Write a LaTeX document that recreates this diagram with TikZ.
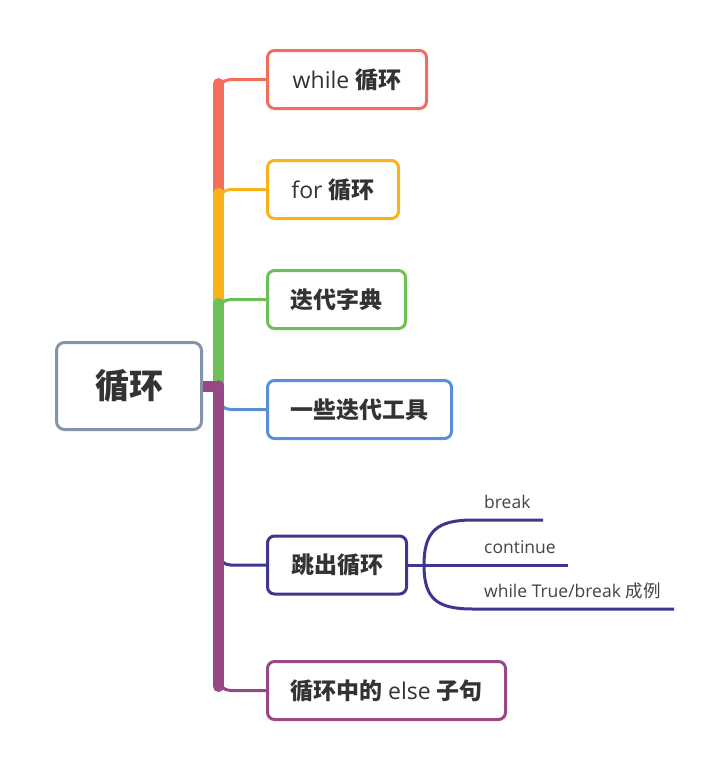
\documentclass[tikz,border=0pt]{standalone}
\usepackage{fontspec}
\setmainfont{Open Sans}
\newfontfamily\cjk{Noto Sans CJK SC}
\newcommand{\zh}[1]{{\cjk\bfseries #1}}
\newcommand{\zhr}[1]{{\cjk #1}}
\usetikzlibrary{calc}

\definecolor{whilered}{HTML}{F46E5C}
\definecolor{foryellow}{HTML}{FAB21B}
\definecolor{dictgreen}{HTML}{6CC056}
\definecolor{toolblue}{HTML}{5A8FD6}
\definecolor{jumpindigo}{HTML}{3E3790}
\definecolor{elseplum}{HTML}{984886}
\definecolor{rootgray}{HTML}{8593A8}
\definecolor{ink}{HTML}{333333}
\definecolor{subink}{HTML}{444444}

\begin{document}
\begin{tikzpicture}[
  x=1pt, y=-1pt,
  topic/.style={draw=#1, line width=3pt, rounded corners=7pt, fill=white,
    minimum height=58pt, inner xsep=0pt, anchor=west, text=ink,
    font=\fontsize{23}{27}\selectfont},
  limb/.style={#1, line width=11pt, line cap=round},
  twig/.style={#1, line width=3pt, rounded corners=12pt},
  leaf/.style={anchor=base west, inner sep=0pt, text=subink,
    font=\fontsize{17.5}{21}\selectfont}
]
\useasboundingbox (0,0) rectangle (719,766);

\node[draw=rootgray, line width=3pt, rounded corners=8pt, minimum width=145pt,
  minimum height=87pt, text=ink, font=\fontsize{34}{40}\selectfont]
  (root) at (129,386) {\zh{循环}};
\coordinate (hub) at (218.5,386);

\node[topic=whilered, minimum width=159pt] (while) at (266,79.5) {while \zh{循环}};
\node[topic=foryellow, minimum width=131pt] (for) at (266,189.5) {for \zh{循环}};
\node[topic=dictgreen, minimum width=138pt] (dict) at (266,299.5) {\zh{迭代字典}};
\node[topic=toolblue, minimum width=184pt] (tools) at (266,409.5) {\zh{一些迭代工具}};
\node[topic=jumpindigo, minimum width=139pt] (jump) at (266,565) {\zh{跳出循环}};
\node[topic=elseplum, minimum width=238pt] (elsecl) at (266,690.5) {\zh{循环中的} else \zh{子句}};

% trunk and branches
\foreach \n/\c/\s in {while/whilered/4, for/foryellow/4, dict/dictgreen/4,
                      tools/toolblue/-4, jump/jumpindigo/-4, elsecl/elseplum/-4}{
  \draw[limb=\c] (hub) -- ($(hub |- \n.west)+(0,\s)$);
  \draw[twig=\c] (hub) |- (\n.west);
}
\draw[elseplum, line width=11pt] (root.east) -- (hub);

% sub-branches of jump
\draw[twig=jumpindigo] (jump.east) -- ++(16,0) coordinate (fork);
\coordinate (brk) at (473,520);  \coordinate (brkend) at (543,520);
\coordinate (cnt) at (473,565);  \coordinate (cntend) at (568,565);
\coordinate (wtb) at (473,609);  \coordinate (wtbend) at (674,609);
\draw[jumpindigo, line width=3pt] (fork) .. controls +(0,-34) and +(-36,0) .. (brk) -- (brkend);
\draw[jumpindigo, line width=3pt] (fork) -- (cntend);
\draw[jumpindigo, line width=3pt] (fork) .. controls +(0,34) and +(-36,0) .. (wtb) -- (wtbend);

\node[leaf] (brklabel) at ([xshift=11pt, yshift=11.5pt]brk) {break};
\node[leaf] (cntlabel) at ([xshift=11pt, yshift=11.5pt]cnt) {continue};
\node[leaf] (wtblabel) at ([xshift=11pt, yshift=11.5pt]wtb) {while True/break \zhr{成例}};
\end{tikzpicture}
\end{document}
